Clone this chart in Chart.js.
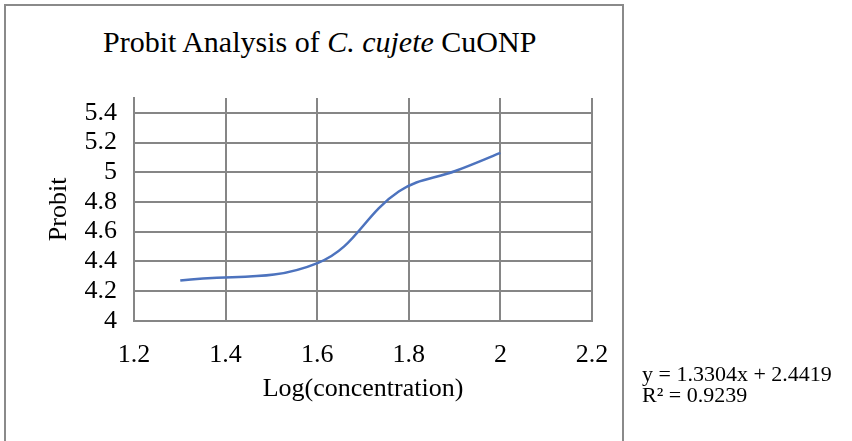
<!DOCTYPE html>
<html>
<head>
<meta charset="utf-8">
<script src="https://cdn.jsdelivr.net/npm/chart.js@4.4.1/dist/chart.umd.min.js"></script>
<style>
    html, body { margin: 0; padding: 0; background: #fff; }
    body { width: 852px; height: 441px; position: relative; overflow: hidden; font-family: "Liberation Serif", "Times New Roman", serif; color: #000; }
    #frame { position: absolute; left: 4px; top: 4px; width: 616px; height: 480px; border: 2px solid #8a8a8a; }
    #title { position: absolute; left: 103px; top: 24px; font-size: 30px; line-height: 36px; white-space: nowrap; }
    #eq { position: absolute; left: 642px; top: 363px; font-size: 22px; line-height: 21px; white-space: nowrap; }
    canvas { position: absolute; left: 0; top: 0; }
</style>
</head>
<body>
<div id="frame"></div>
<div id="title">Probit Analysis of <i>C. cujete</i> CuONP</div>
<canvas id="chart" width="852" height="441"></canvas>
<div id="eq">y = 1.3304x + 2.4419<br>R² = 0.9239</div>
<script>
const logConc = [1.301, 1.602, 1.778, 1.903, 2.0];
const probit = [4.27, 4.39, 4.87, 5.01, 5.13];

const xTicks = [1.2, 1.4, 1.6, 1.8, 2.0, 2.2];
const yTicks = [4.0, 4.2, 4.4, 4.6, 4.8, 5.0, 5.2, 5.4];
const yMax = 5.5;

const gridColor = "#868686";
const lineColor = "#4d73be";
const tickFont = { family: "Liberation Serif", size: 26 };

const fixedTicks = (values) => (scale) => {
    scale.ticks = values.map((v) => ({ value: v }));
};
const plainLabel = (v) => String(Math.round(v * 10) / 10);

new Chart(document.getElementById("chart"), {
    type: "scatter",
    data: {
        datasets: [{
            label: "Probit",
            data: logConc.map((x, i) => ({ x, y: probit[i] })),
            showLine: true,
            borderColor: lineColor,
            borderWidth: 2.5,
            pointRadius: 0,
            tension: 0.4,
        }],
    },
    options: {
        responsive: false,
        animation: false,
        layout: { padding: { top: 98, left: 0, right: 260, bottom: 0 } },
        plugins: { legend: { display: false }, tooltip: { enabled: false } },
        scales: {
            x: {
                type: "linear",
                min: xTicks[0],
                max: xTicks[xTicks.length - 1],
                afterBuildTicks: fixedTicks(xTicks),
                ticks: { color: "#000", font: tickFont, padding: 19, autoSkip: false, maxRotation: 0, callback: plainLabel },
                grid: { color: gridColor, lineWidth: 2, drawTicks: false },
                border: { color: gridColor, width: 2 },
                title: { display: true, text: "Log(concentration)", color: "#000", font: tickFont, padding: { top: 0, bottom: 36 } },
                afterFit: (scale) => { scale.height = 120.3; },
            },
            y: {
                min: yTicks[0],
                max: yMax,
                afterBuildTicks: fixedTicks(yTicks),
                ticks: { color: "#000", font: tickFont, padding: 17, autoSkip: false, callback: plainLabel },
                grid: { color: gridColor, lineWidth: 2, drawTicks: false },
                border: { color: gridColor, width: 2 },
                title: { display: true, text: "Probit", color: "#000", font: tickFont, padding: { top: 44, bottom: 0 } },
                afterFit: (scale) => { scale.width = 134; },
            },
        },
    },
});
</script>
</body>
</html>
